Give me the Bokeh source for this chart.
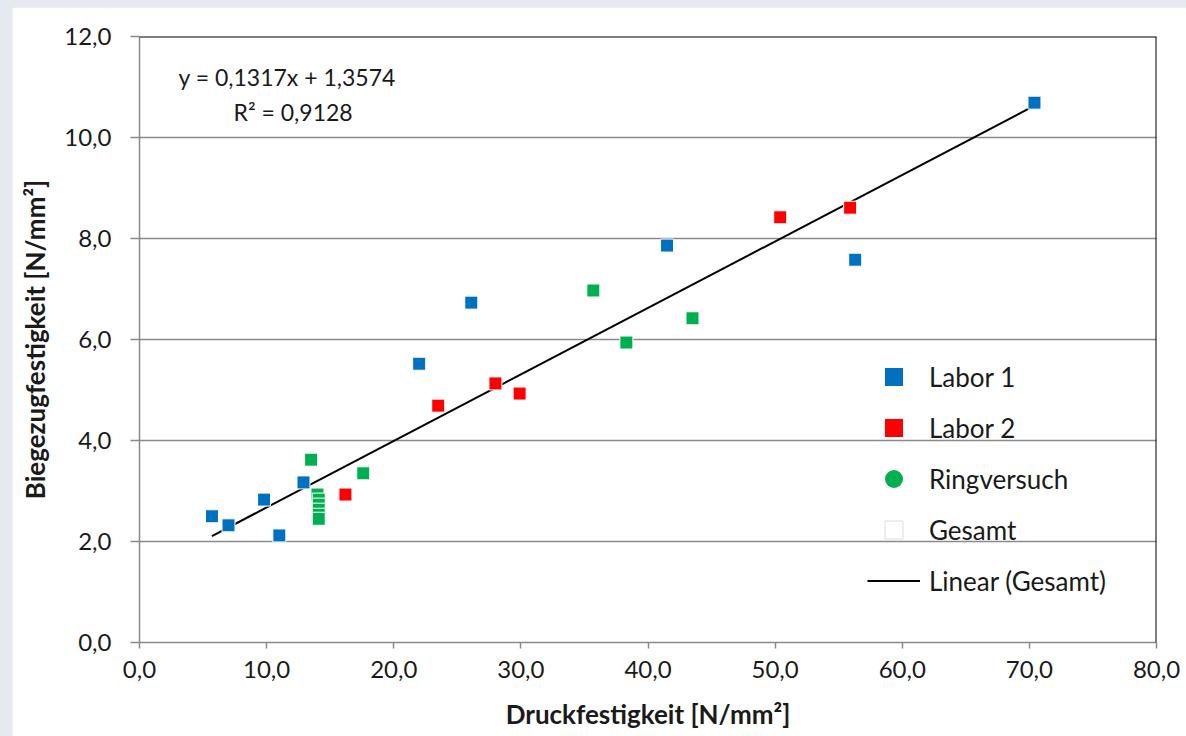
from bokeh.plotting import figure
from bokeh.models import (Legend, LegendItem, Label, Span, FixedTicker,
                          GlobalInlineStyleSheet, ColumnDataSource)
from bokeh.embed import file_html
from bokeh.resources import INLINE

# ---------------- data ----------------
labor1_x = [5.7, 7.0, 9.8, 11.0, 12.9, 22.0, 26.1, 41.5, 56.3, 70.4]
labor1_y = [2.50, 2.32, 2.83, 2.12, 3.17, 5.52, 6.73, 7.86, 7.58, 10.69]

labor2_x = [16.2, 23.5, 28.0, 29.9, 50.4, 55.9]
labor2_y = [2.93, 4.69, 5.13, 4.93, 8.42, 8.61]

ring_x = [13.5, 17.6, 14.0, 14.1, 14.1, 14.1, 14.1, 14.1, 35.7, 38.3, 43.5]
ring_y = [3.62, 3.35, 2.93, 2.83, 2.73, 2.63, 2.53, 2.45, 6.97, 5.94, 6.42]

slope = 0.1317
intercept = 1.3574
r_squared = 0.9128

x_ticks = [0, 10, 20, 30, 40, 50, 60, 70, 80]
y_ticks = [0, 2, 4, 6, 8, 10, 12]
x_tick_labels = ["0,0", "10,0", "20,0", "30,0", "40,0", "50,0", "60,0", "70,0", "80,0"]
y_tick_labels = ["0,0", "2,0", "4,0", "6,0", "8,0", "10,0", "12,0"]

series_names = ["Labor 1", "Labor 2", "Ringversuch", "Gesamt", "Linear (Gesamt)"]
colors = {"Labor 1": "#0070C0", "Labor 2": "#FF0000", "Ringversuch": "#00B050"}

x_title = "Druckfestigkeit [N/mm²]"
y_title = "Biegezugfestigkeit [N/mm²]"

FONT = "Lato"
TXT = "#1a1a1a"
FS = "24px"

# ---------------- figure ----------------
p = figure(frame_width=1017, frame_height=606,
           x_range=(0, 80), y_range=(0, 12),
           output_backend="svg", toolbar_location=None,
           min_border_left=127, min_border_top=29,
           min_border_right=30, min_border_bottom=94,
           background_fill_color="white", border_fill_color="white")
p.outline_line_color = None

p.stylesheets = [GlobalInlineStyleSheet(css="html,body{margin:0;padding:0;overflow:hidden;background:#e4eaef;}"
                                             "body{padding:7px 0 0 12px;}")]

# grid
p.xgrid.visible = False
p.ygrid.ticker = FixedTicker(ticks=[t for t in y_ticks if 0 < t < 12])
p.ygrid.grid_line_color = "#8a8a8a"
p.ygrid.grid_line_width = 1.5

# axes
for ax in (p.xaxis[0], p.yaxis[0]):
    ax.axis_line_color = "#8a8a8a"
    ax.axis_line_width = 1.5
    ax.major_tick_line_color = "#8a8a8a"
    ax.major_tick_line_width = 1.5
    ax.major_tick_in = 0
    ax.minor_tick_line_color = None
    ax.major_label_text_font = FONT
    ax.major_label_text_font_size = FS
    ax.major_label_text_color = TXT
    ax.axis_label_text_font = FONT
    ax.axis_label_text_font_size = "26px"
    ax.axis_label_text_font_style = "bold"
    ax.axis_label_text_color = TXT

p.xaxis.ticker = FixedTicker(ticks=x_ticks)
p.yaxis.ticker = FixedTicker(ticks=y_ticks)
p.xaxis.major_label_overrides = {t: l for t, l in zip(x_ticks, x_tick_labels)}
p.yaxis.major_label_overrides = {t: l for t, l in zip(y_ticks, y_tick_labels)}
p.xaxis.major_tick_out = 6
p.yaxis.major_tick_out = 9
p.xaxis.major_label_standoff = 12
p.yaxis.major_label_standoff = 19
p.xaxis.axis_label = x_title
p.yaxis.axis_label = y_title
p.xaxis.axis_label_standoff = 17
p.yaxis.axis_label_standoff = 10

# frame top/right in black
p.add_layout(Span(location=12, dimension="width", line_color="black", line_width=2))
p.add_layout(Span(location=80, dimension="height", line_color="black", line_width=2))

# trend line
all_x = labor1_x + labor2_x + ring_x
x0, x1 = min(all_x), max(all_x)
trend = p.line([x0, x1], [slope * x0 + intercept, slope * x1 + intercept],
               line_color="black", line_width=2)

# scatter series
r1 = p.scatter(labor1_x, labor1_y, marker="square", size=13,
               fill_color=colors["Labor 1"], line_color="white", line_width=1)
r2 = p.scatter(labor2_x, labor2_y, marker="square", size=13,
               fill_color=colors["Labor 2"], line_color="white", line_width=1)
r3 = p.scatter(ring_x, ring_y, marker="square", size=13,
               fill_color=colors["Ringversuch"], line_color="white", line_width=1)

# legend-only glyphs (one NaN point each, so nothing shows in the plot)
nan = float("nan")
def legend_src():
    return ColumnDataSource(data=dict(x=[nan], y=[nan]))
lg1 = p.scatter("x", "y", source=legend_src(), marker="square", size=18,
                fill_color=colors["Labor 1"], line_color=None)
lg2 = p.scatter("x", "y", source=legend_src(), marker="square", size=18,
                fill_color=colors["Labor 2"], line_color=None)
lg3 = p.scatter("x", "y", source=legend_src(), marker="circle", size=18,
                fill_color=colors["Ringversuch"], line_color=None)
lg4 = p.scatter("x", "y", source=legend_src(), marker="square", size=18,
                fill_color="white", line_color="#dcdcdc")

legend = Legend(items=[
    LegendItem(label=series_names[0], renderers=[lg1]),
    LegendItem(label=series_names[1], renderers=[lg2]),
    LegendItem(label=series_names[2], renderers=[lg3]),
    LegendItem(label=series_names[3], renderers=[lg4]),
    LegendItem(label=series_names[4], renderers=[trend]),
], location=(728, 39))
legend.glyph_width = 53
legend.glyph_height = 45
legend.label_height = 45
legend.spacing = 6
legend.padding = 0
legend.margin = 0
legend.label_standoff = 9
legend.border_line_color = None
legend.background_fill_alpha = 0
legend.label_text_font = FONT
legend.label_text_font_size = "26px"
legend.label_text_color = TXT
p.add_layout(legend, "center")

# equation text
eq1 = "y = " + f"{slope:.4f}".replace(".", ",") + "x + " + f"{intercept:.4f}".replace(".", ",")
eq2 = "R² = " + f"{r_squared:.4f}".replace(".", ",")
p.add_layout(Label(x=3.07, y=11.19, text=eq1, text_align="left", text_baseline="middle",
                   text_font=FONT, text_font_size="23px", text_color=TXT))
p.add_layout(Label(x=7.4, y=10.51, text=eq2, text_align="left", text_baseline="middle",
                   text_font=FONT, text_font_size="23px", text_color=TXT))

open("out.html", "w").write(file_html(p, INLINE))
